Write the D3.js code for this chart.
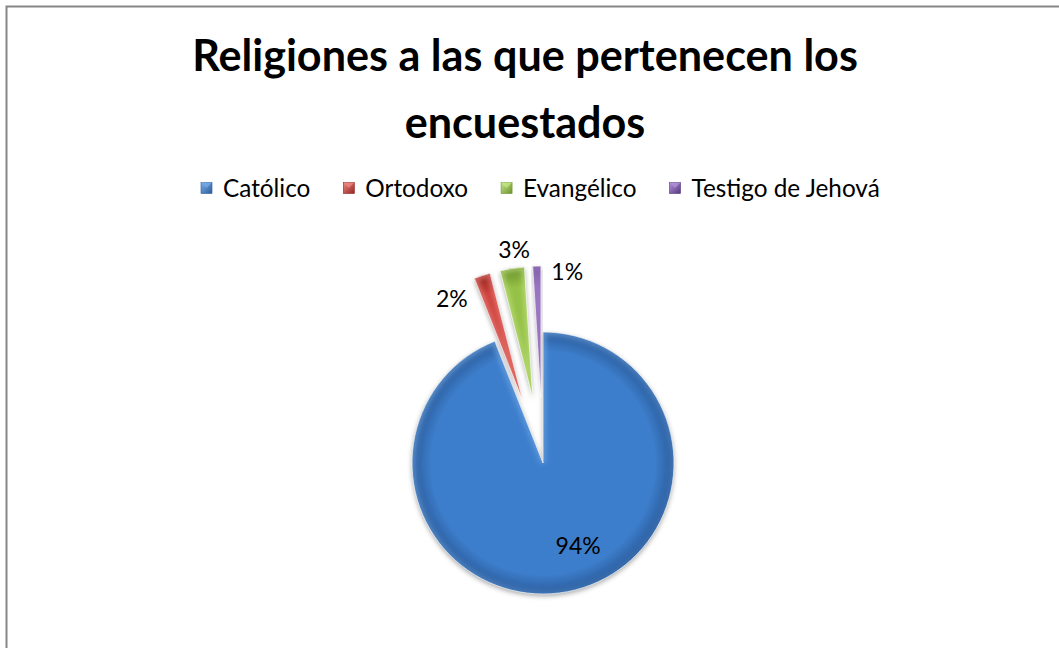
<!DOCTYPE html>
<html><head><meta charset="utf-8">
<script src="https://cdn.jsdelivr.net/npm/d3@7"></script>
<style>
html,body{margin:0;padding:0;background:#fff;}
svg{display:block;}
text{font-family:"Lato","Open Sans","Liberation Sans",sans-serif;}
</style></head>
<body>
<svg id="chart" width="1059" height="648"></svg>
<script>
// ---- data ----
const titleLines = ["Religiones a las que pertenecen los", "encuestados"];
const categories = ["Católico", "Ortodoxo", "Evangélico", "Testigo de Jehová"];
const values = [94, 2, 3, 1];
const labels = ["94%", "2%", "3%", "1%"];
const colors = ["#3d7ecc", "#cc3f3a", "#95c147", "#7a53a8"];
const colorsLight = ["#7aaee8", "#f08a85", "#c8e88a", "#b494d8"];
const colorsDark = ["#2a5c9c", "#92231f", "#6a922c", "#55367e"];

// ---- layout ----
const W = 1059, H = 648;
const cx = 543, cy = 463, R = 131, explode = 66;
const labelNudge = [[18, -7], [-34, 12], [0, -31], [30, -6]];

const svg = d3.select("#chart");
const defs = svg.append("defs");

// border
svg.append("rect").attr("x", 6.5).attr("y", 6.5).attr("width", W + 10).attr("height", H + 10)
  .attr("fill", "#fff").attr("stroke", "#868686").attr("stroke-width", 2);

// title
const title = svg.append("g");
titleLines.forEach((t, i) => {
  title.append("text").attr("x", 525).attr("y", 71 + i * 67)
    .attr("text-anchor", "middle").attr("font-weight", "bold")
    .attr("font-size", 41).attr("fill", "#000").text(t);
});
const w1 = title.select("text").node().getComputedTextLength();
title.selectAll("text").attr("font-size", 41 * 666 / w1);

// filters
const f = defs.append("filter").attr("id", "shadow").attr("x", "-20%").attr("y", "-20%").attr("width", "140%").attr("height", "140%");
f.append("feDropShadow").attr("dx", 0).attr("dy", 2).attr("stdDeviation", 2.5).attr("flood-color", "#000").attr("flood-opacity", 0.35);
const blur = defs.append("filter").attr("id", "soft").attr("x", "-20%").attr("y", "-20%").attr("width", "140%").attr("height", "140%");
blur.append("feGaussianBlur").attr("stdDeviation", 2.5);

// gradients (local to each slice group, origin at slice tip)
colors.forEach((c, i) => {
  const g = defs.append("radialGradient").attr("id", "grad" + i)
    .attr("gradientUnits", "userSpaceOnUse").attr("cx", 0).attr("cy", 0).attr("r", R);
  g.append("stop").attr("offset", "0%").attr("stop-color", c);
  g.append("stop").attr("offset", "85%").attr("stop-color", c);
  g.append("stop").attr("offset", "100%").attr("stop-color", colorsDark[i]);
  const rim = defs.append("linearGradient").attr("id", "rim" + i)
    .attr("gradientUnits", "userSpaceOnUse").attr("x1", -R).attr("y1", -R).attr("x2", R).attr("y2", R);
  rim.append("stop").attr("offset", "0%").attr("stop-color", colorsLight[i]);
  rim.append("stop").attr("offset", "55%").attr("stop-color", colorsLight[i]).attr("stop-opacity", 0.6);
  rim.append("stop").attr("offset", "100%").attr("stop-color", colorsDark[i]);
  const lg = defs.append("linearGradient").attr("id", "lgrad" + i).attr("x1", 0).attr("y1", 0).attr("x2", 1).attr("y2", 1);
  lg.append("stop").attr("offset", "0%").attr("stop-color", colorsLight[i]);
  lg.append("stop").attr("offset", "100%").attr("stop-color", colorsDark[i]);
});

// pie
const pie = d3.pie().sort(null).value(d => d)(values);
const arc = d3.arc().innerRadius(0).outerRadius(R);
const pieG = svg.append("g").attr("transform", `translate(${cx},${cy})`);

pie.forEach((d, i) => {
  const mid = (d.startAngle + d.endAngle) / 2;
  const off = i === 0 ? 0 : explode;
  const ox = Math.sin(mid) * off, oy = -Math.cos(mid) * off;
  const g = pieG.append("g").attr("transform", `translate(${ox},${oy})`);
  const p = arc(d);
  defs.append("clipPath").attr("id", "clip" + i).append("path").attr("d", p);
  g.append("path").attr("d", p).attr("fill", `url(#grad${i})`).attr("filter", "url(#shadow)");
  const hl = g.append("g").attr("clip-path", `url(#clip${i})`);
  hl.append("path").attr("d", p).attr("fill", "none").attr("stroke", `url(#rim${i})`)
    .attr("stroke-width", 6).attr("stroke-opacity", 0.75).attr("filter", "url(#soft)");
  g.append("path").attr("d", p).attr("fill", "none").attr("stroke", "#fff").attr("stroke-width", 0.8)
    .attr("stroke-opacity", 0.85);
});

// data labels
const inArc = d3.arc().innerRadius(R * 0.7).outerRadius(R * 0.7);
const outArc = d3.arc().innerRadius(R + 54).outerRadius(R + 54);
pie.forEach((d, i) => {
  const c = i === 0 ? inArc.centroid(d) : outArc.centroid(d);
  svg.append("text")
    .attr("x", cx + c[0] + labelNudge[i][0])
    .attr("y", cy + c[1] + labelNudge[i][1])
    .attr("dy", "0.36em").attr("text-anchor", "middle")
    .attr("font-size", 23).attr("fill", "#000").text(labels[i]);
});

// legend
const leg = svg.append("g");
const sq = 11, gapSq = 11, gapItem = 33, legTarget = 679;
let legFs = 22;
const items = categories.map((c, i) => {
  const it = leg.append("g");
  it.append("rect").attr("x", 0).attr("y", -sq / 2).attr("width", sq).attr("height", sq)
    .attr("fill", `url(#lgrad${i})`).attr("stroke", colorsDark[i]).attr("stroke-width", 0.6);
  it.append("path").attr("d", `M0,${-sq/2}L${sq/2},0L${sq},${-sq/2}Z`).attr("fill", colorsLight[i]).attr("opacity", 0.7);
  it.append("text").attr("x", sq + gapSq).attr("y", 0).attr("dy", "0.35em")
    .attr("font-size", legFs).attr("fill", "#000").text(c);
  return it;
});
const textW = () => d3.sum(items, it => it.select("text").node().getComputedTextLength());
const fixed = categories.length * (sq + gapSq) + (categories.length - 1) * gapItem;
legFs = legFs * (legTarget - fixed) / textW();
items.forEach(it => it.select("text").attr("font-size", legFs));
let x = 0;
items.forEach(it => {
  it.attr("transform", `translate(${x},0)`);
  x += sq + gapSq + it.select("text").node().getComputedTextLength() + gapItem;
});
leg.attr("transform", `translate(${540.5 - legTarget / 2},188)`);
</script>
</body></html>
